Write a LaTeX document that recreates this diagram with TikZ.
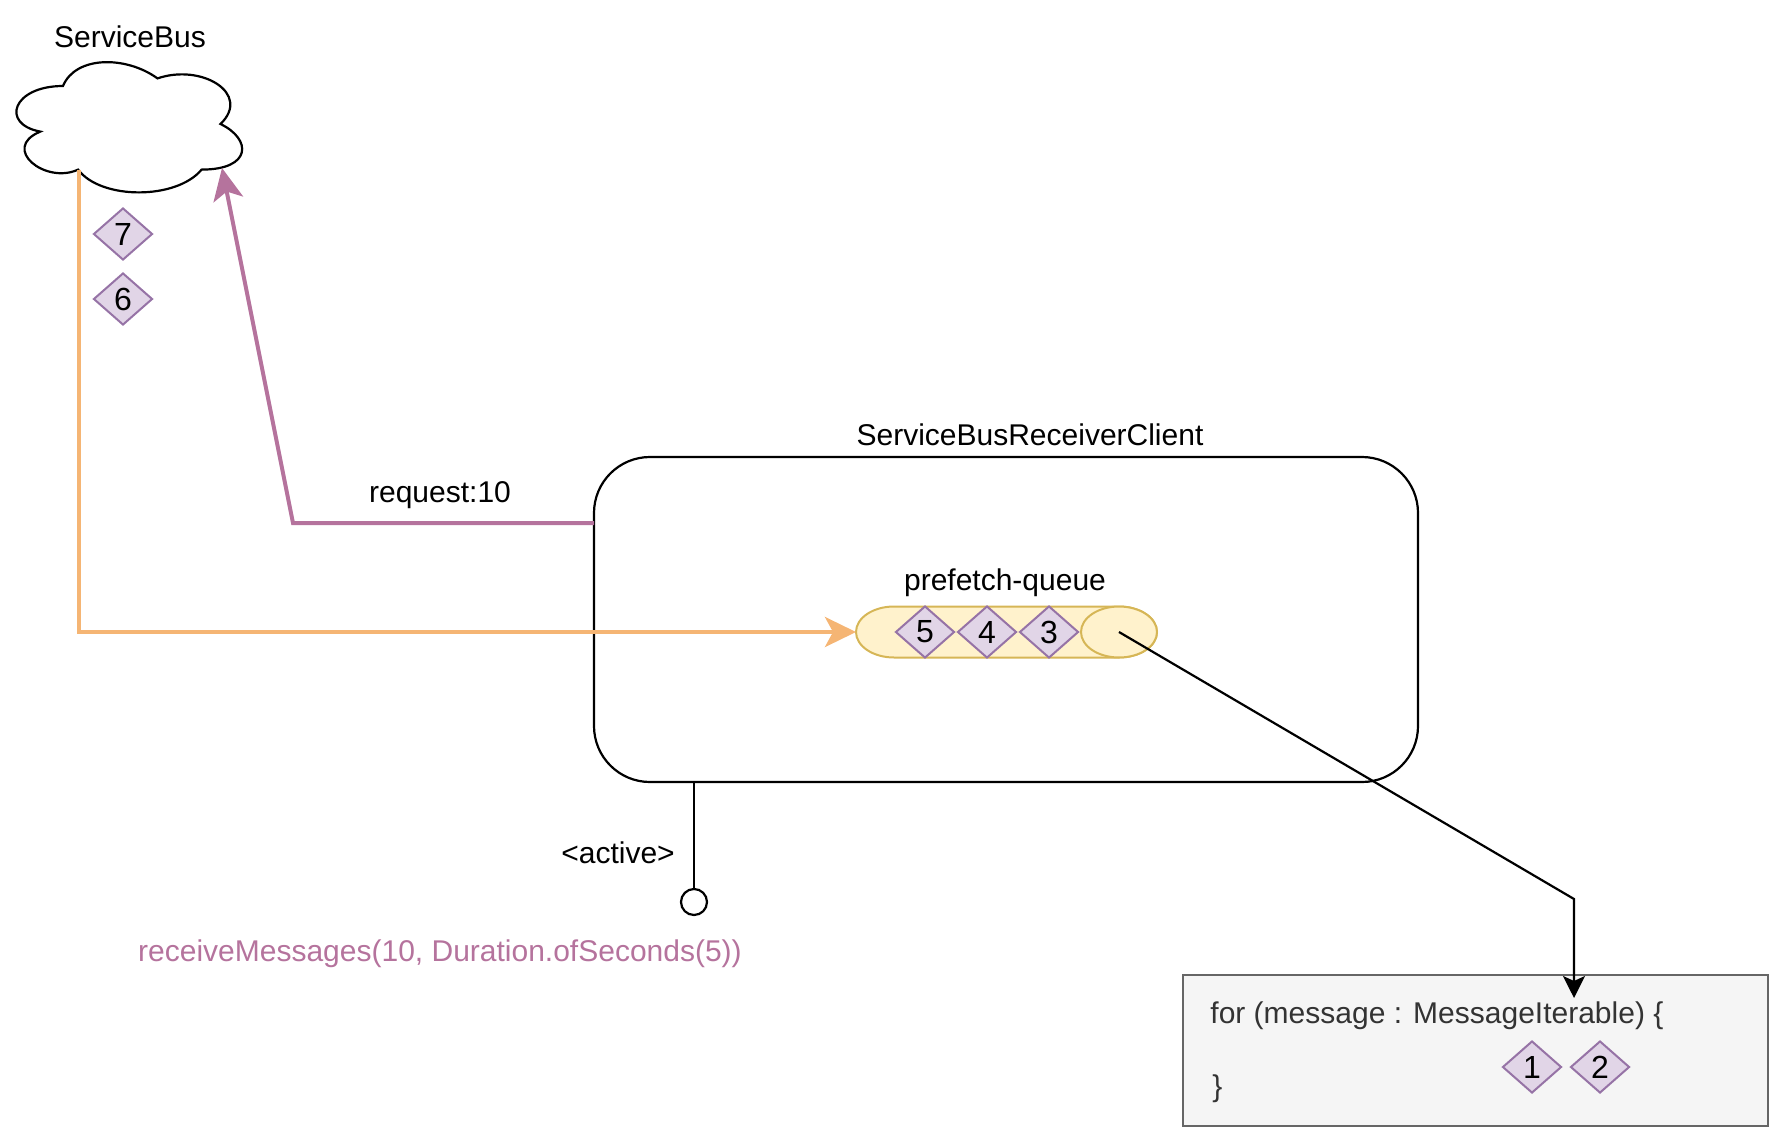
\documentclass[tikz,border=0pt]{standalone}
\usepackage{fontspec}
\setmainfont{Liberation Sans}
\usetikzlibrary{arrows.meta,shapes.geometric}
\definecolor{purpleline}{HTML}{B5739D}
\definecolor{orangeline}{HTML}{F5B574}
\definecolor{msgfill}{HTML}{E1D5E7}
\definecolor{msgstroke}{HTML}{9673A6}
\definecolor{qfill}{HTML}{FFF2CC}
\definecolor{qstroke}{HTML}{D6B656}
\definecolor{codefill}{HTML}{F5F5F5}
\definecolor{codestroke}{HTML}{666666}
\definecolor{codetext}{HTML}{333333}
\tikzset{
  lbl/.style={inner sep=0pt, font=\fontsize{15}{18}\selectfont},
  msg/.style={diamond, draw=msgstroke, fill=msgfill, line width=1pt,
    minimum width=29.5pt, minimum height=26pt, inner sep=0pt,
    font=\fontsize{16}{18}\selectfont},
  outline/.style={draw=black, line width=1.1pt},
  reqline/.style={draw=purpleline, line width=2pt, -{Stealth[length=16pt,width=15pt,inset=4pt]}},
  dataline/.style={draw=orangeline, line width=2pt, -{Stealth[length=15.5pt,width=15pt,inset=4pt]}},
  flowline/.style={draw=black, line width=1.1pt, -{Stealth[length=11pt,width=11pt,inset=2.5pt]}}
}
\begin{document}
\begin{tikzpicture}[x=0.5pt,y=-0.5pt]
\useasboundingbox (0,0) rectangle (1783,1140);

% client box
\node[outline, rounded corners=28pt, minimum width=412pt, minimum height=162.5pt, inner sep=0pt] (client) at (1006,619.5) {};
\node[lbl] (clientlbl) at (1030,435) {ServiceBusReceiverClient};

% code box
\node[draw=codestroke, fill=codefill, line width=1.1pt, minimum width=292.5pt, minimum height=75.5pt, inner sep=0pt] (code) at (1475.5,1050.5) {};
\node[lbl, anchor=west, text=codetext] (codeline1) at (1210,1016) {for (message : MessageIterable) \{};
\node[lbl, anchor=west, text=codetext] (codeline2) at (1212,1089) {\}};
\node[msg] (m1) at (1532,1067) {1};
\node[msg] (m2) at (1600,1067) {2};

% cloud
\draw[outline, fill=white] (63,86)
  .. controls (12.6,86) and (0,124) .. (40.3,131.6)
  .. controls (0,148.3) and (45.4,184.8) .. (78.1,169.6)
  .. controls (100.8,200) and (176.4,200) .. (201.6,169.6)
  .. controls (252,169.6) and (252,139.2) .. (220.5,124)
  .. controls (252,93.6) and (201.6,63.2) .. (157.5,78.4)
  .. controls (126,55.6) and (75.6,55.6) .. (63,86) -- cycle;
\node[lbl] (sblbl) at (130,37) {ServiceBus};
\coordinate (cloudL) at (79,169.6);
\coordinate (cloudR) at (222,168);

\node[msg] (m7) at (123,234) {7};
\node[msg] (m6) at (123,299) {6};

% queue
\coordinate (qin) at (856,632);
\coordinate (qend) at (1119,632);
\node[lbl] (qlbl) at (1005,583) {prefetch-queue};
\draw[draw=qstroke, fill=qfill, line width=1pt]
  (1119,606.5) -- (894,606.5) arc[start angle=90, end angle=270, x radius=19pt, y radius=12.75pt]
  -- (1119,657.5) arc[start angle=-90, end angle=90, x radius=19pt, y radius=12.75pt] -- cycle;
\draw[draw=qstroke, fill=qfill, line width=1pt] (qend) ellipse[x radius=19pt, y radius=12.75pt];
\node[msg] (m5) at (925,632) {5};
\node[msg] (m4) at (987,632) {4};
\node[msg] (m3) at (1049,632) {3};

% request connector
\coordinate (reqstart) at (594,523);
\coordinate (reqbend) at (293,523);
\draw[reqline] (reqstart) -- (reqbend) -- (cloudR);
\node[lbl] (reqlbl) at (440,495) {request:10};

% data connector
\coordinate (databend) at (79,632);
\draw[dataline] (cloudL) -- (databend) -- (qin);

% flow to code
\coordinate (flowbend) at (1574,899);
\coordinate (codein) at (1574,998);
\draw[flowline] (qend) -- (flowbend) -- (codein);

% active
\node[circle, outline, minimum size=13pt, inner sep=0pt] (act) at (694,902) {};
\draw[outline] (act |- client.south) -- (act.north);
\node[lbl] (actlbl) at (618,853) {<active>};
\node[lbl, text=purpleline] (recvlbl) at (440,954) {receiveMessages(10, Duration.ofSeconds(5))};
\end{tikzpicture}
\end{document}
